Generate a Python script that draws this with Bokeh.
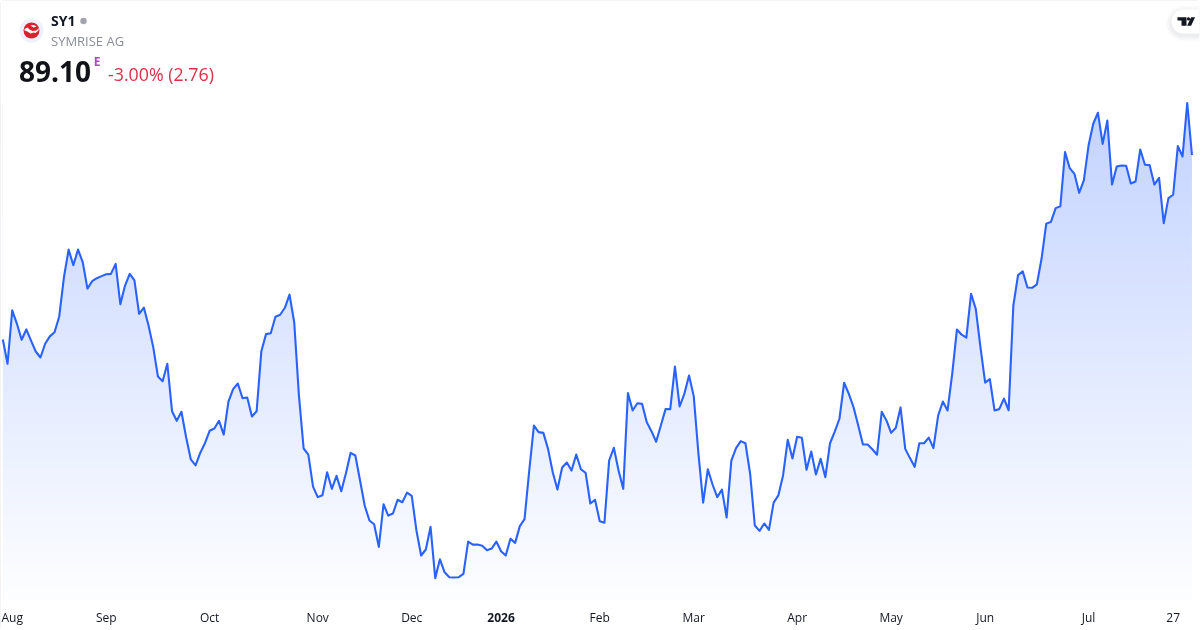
import math
import numpy as np
from bokeh.plotting import figure
from bokeh.embed import file_html
from bokeh.resources import INLINE
from bokeh.models import Range1d, FixedTicker, Label

symbol = "SY1"
company = "SYMRISE AG"
last_price = "89.10"
session_flag = "E"
change_text = "-3.00% (2.76)"

prices = [
79.31,78.02,80.85,80.14,79.29,79.84,79.25,78.67,78.35,79.08,79.47,79.69,80.53,82.61,84.08,83.25,84.08,83.41,82.01,82.40,
82.56,82.67,82.77,82.79,83.32,81.18,82.17,82.79,82.44,80.67,81.00,80.05,78.90,77.34,77.09,78.02,75.50,74.99,75.47,74.12,
72.94,72.62,73.29,73.80,74.46,74.58,74.99,74.26,76.01,76.67,76.97,76.19,76.23,75.22,75.50,78.68,79.59,79.64,80.51,80.62,
80.99,81.69,80.21,76.33,73.52,73.20,71.50,70.94,71.04,72.26,71.38,72.07,71.25,72.21,73.29,73.15,71.82,70.48,69.70,69.50,
68.30,70.56,69.96,70.07,70.80,70.67,71.18,71.01,69.17,67.84,68.16,69.36,66.64,67.64,66.95,66.69,66.67,66.69,66.87,68.58,
68.42,68.42,68.36,68.12,68.21,68.58,68.07,67.84,68.73,68.51,69.40,69.77,72.35,74.74,74.39,74.35,73.50,72.26,71.34,72.51,
72.78,72.35,73.20,72.42,72.23,70.60,70.80,69.66,69.58,72.88,73.56,72.35,71.38,76.46,75.54,75.92,75.89,74.92,74.44,73.88,
74.74,75.61,75.61,77.87,75.75,76.42,77.39,76.30,73.25,70.65,72.42,71.61,70.94,71.34,69.86,72.88,73.54,73.91,73.80,72.18,
69.43,69.15,69.54,69.20,70.65,71.03,72.09,73.98,72.99,74.14,74.09,72.39,73.36,72.14,72.97,72.00,73.80,74.42,75.10,77.01,
76.42,75.71,74.74,73.73,73.73,73.48,73.19,75.47,75.01,74.35,74.62,75.70,73.50,73.01,72.55,73.80,73.80,74.10,73.54,75.27,
76.01,75.54,77.49,79.84,79.56,79.40,81.73,80.94,78.90,77.02,77.20,75.54,75.61,76.17,75.55,81.11,82.72,82.92,82.07,82.05,
82.23,83.59,85.45,85.55,86.28,86.38,89.25,88.40,88.10,87.09,87.75,89.60,90.76,91.34,89.69,90.93,87.53,88.49,88.54,88.53,
87.59,87.69,89.39,88.58,88.56,87.53,87.89,85.48,86.81,86.99,89.57,89.02,91.86,89.10,
]
tick_positions = [2, 22, 44, 67, 87, 106, 127, 147, 169, 189, 209, 231, 249]
tick_labels = ["Aug", "Sep", "Oct", "Nov", "Dec", "2026", "Feb", "Mar", "Apr", "May", "Jun", "Jul", "27"]
bold_tick = "2026"

bars = list(range(len(prices)))
x_lo, x_hi = -0.496, 254.82
y_base = 65.45          # price level where the area stops
y_lo, y_hi = 63.86, 97.30
TXT = "#131722"
FONT = "Open Sans"

p = figure(width=1200, height=630, output_backend="svg", toolbar_location=None,
           x_range=Range1d(x_lo, x_hi), y_range=Range1d(y_lo, y_hi),
           min_border_left=0, min_border_right=0, min_border_top=0, min_border_bottom=0,
           background_fill_color="white", border_fill_color="white")
p.styles = {"position": "fixed", "left": "0", "top": "0",
            "outline": "1px solid #e6e7ea", "outline-offset": "-1px", "border-radius": "4px"}
p.extra_x_ranges["px"] = Range1d(0, 1200)
p.extra_y_ranges["px"] = Range1d(630, 0)
p.grid.visible = False
p.outline_line_color = None
p.yaxis.visible = False

ax = p.xaxis[0]
ax.fixed_location = y_base
ax.ticker = FixedTicker(ticks=tick_positions)
ax.major_label_overrides = {t: ("" if l == bold_tick else l) for t, l in zip(tick_positions, tick_labels)}
ax.axis_line_color = None
ax.major_tick_line_color = None
ax.minor_tick_line_color = None
ax.major_tick_in = 0
ax.major_tick_out = 0
ax.minor_tick_in = 0
ax.minor_tick_out = 0
ax.major_label_text_font = FONT
ax.major_label_text_font_size = "12px"
ax.major_label_text_color = TXT
ax.major_label_standoff = 8

# vertical fill: the gradient sits under a white cover that stops at the line
rows = 200
top_price = max(prices)
grad = np.zeros((rows, 1), dtype=np.uint32)
view = grad.view(dtype=np.uint8).reshape((rows, 1, 4))
for r in range(rows):
    a = 0.28 * (0.03 + 0.97 * r / (rows - 1))
    view[r, 0, 0] = round(255 - (255 - 41) * a)
    view[r, 0, 1] = round(255 - (255 - 98) * a)
    view[r, 0, 2] = 255
    view[r, 0, 3] = 255
p.image_rgba(image=[grad], x=0, y=y_base, dw=len(prices) - 1, dh=top_price - y_base)
p.varea(x=bars, y1=prices, y2=[y_hi] * len(prices), fill_color="white")
p.line(bars, prices, line_color="#2962ff", line_width=2.1, line_join="round")

kw = dict(x_range_name="px", y_range_name="px")

# bold year tick
i26 = tick_labels.index(bold_tick)
p.add_layout(Label(x=tick_positions[i26], y=617, y_range_name="px", text=bold_tick, text_align="center",
                   text_baseline="middle", text_font=FONT, text_font_size="12px",
                   text_font_style="bold", text_color=TXT))

# header
p.add_layout(Label(x=50.5, y=20, text=symbol, text_font=FONT, text_font_size="14px", text_font_style="bold",
                   text_color=TXT, text_baseline="middle", **kw))
p.scatter([83], [20.5], size=6.5, marker="circle", fill_color="#a3a6af", line_color=None, **kw)
p.add_layout(Label(x=50.5, y=40, text=company, text_font=FONT, text_font_size="13px", text_color="#8a8d96",
                   text_baseline="middle", **kw))
p.add_layout(Label(x=18.5, y=71, text=last_price, text_font=FONT, text_font_size="28px", text_font_style="bold",
                   text_color="#111318", text_baseline="middle", **kw))
p.add_layout(Label(x=93.2, y=60.5, text=session_flag, text_font=FONT, text_font_size="12px", text_font_style="bold",
                   text_color="#ab47bc", text_baseline="middle", **kw))
p.add_layout(Label(x=107.5, y=73.5, text=change_text, text_font=FONT, text_font_size="17.8px",
                   text_color="#db3049", text_baseline="middle", **kw))

# company logo
p.scatter([31], [30], size=24, marker="circle", fill_color="#eef1fb", line_color=None, **kw)
p.scatter([31], [30], size=16, marker="circle", fill_color="#d8232e", line_color=None, **kw)
p.patch([24, 27, 29, 32, 36, 38.5, 38, 35, 33, 30, 27, 24], [28.5, 27, 29, 30.5, 30, 27.5, 30, 32.5, 32, 33, 31, 30],
        fill_color="white", line_color=None, **kw)
p.patch([30, 33, 36, 33], [25, 24.5, 26, 27], fill_color="white", line_color=None, **kw)

# TradingView pill with soft shadow
def pill(left, top, bottom, right=1199.0):
    r = (bottom - top) / 2
    cy = (top + bottom) / 2
    xs, ys = [right, left + r], [top, top]
    for k in range(1, 24):
        t = -math.pi / 2 - math.pi * k / 24
        xs.append(left + r + r * math.cos(t))
        ys.append(cy + r * math.sin(t))
    xs += [left + r, right]
    ys += [bottom, bottom]
    return xs, ys

for grow, alpha in [(6, 0.012), (4.5, 0.015), (3, 0.02), (1.5, 0.025)]:
    xs, ys = pill(1171 - grow, 9 - grow + 2, 33 + grow + 2)
    p.patch(xs, ys, fill_color="#131722", fill_alpha=alpha, line_color=None, **kw)
xs, ys = pill(1171, 9, 33)
p.patch(xs, ys, fill_color="white", line_color=None, **kw)
p.patch([1177, 1186, 1186, 1181, 1181, 1177], [16.7, 16.7, 25.3, 25.3, 20, 20], fill_color="#131722", line_color=None, **kw)
p.scatter([1188], [18.4], size=3.4, marker="circle", fill_color="#131722", line_color=None, **kw)
p.patch([1190.6, 1194.6, 1190.6, 1186.6], [16.7, 16.7, 25.3, 25.3], fill_color="#131722", line_color=None, **kw)

open("out.html", "w").write(file_html(p, INLINE))
